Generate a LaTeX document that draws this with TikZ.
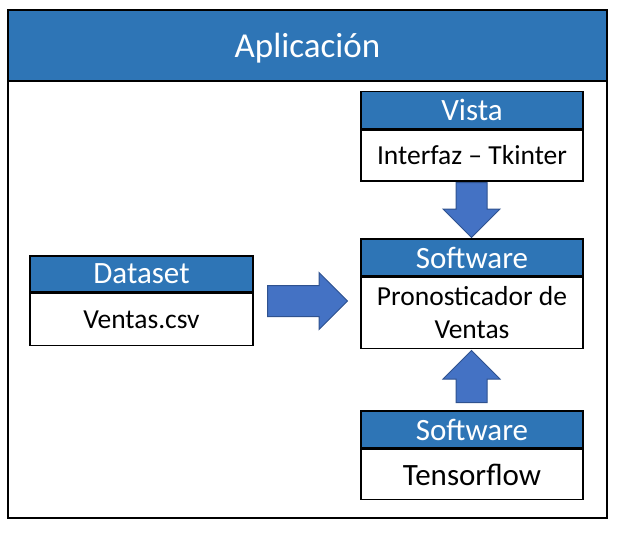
\documentclass[tikz,border=0pt]{standalone}
\usepackage{fontspec}
\setmainfont{Carlito}
\usetikzlibrary{shapes.arrows,positioning}

\definecolor{azul}{RGB}{46,117,182}
\definecolor{flecha}{RGB}{68,114,196}
\definecolor{bordeflecha}{RGB}{47,82,143}

\tikzset{
    cabecera/.style={draw, line width=1.5pt, fill=azul, text=white, minimum width=222pt,
        minimum height=37pt, inner sep=0pt, font=\fontsize{31}{31}\selectfont},
    cuerpo/.style={draw, line width=1.5pt, fill=white, minimum width=222pt, inner sep=0pt,
        align=center, font=\fontsize{27.5}{33}\selectfont},
    flechabloque/.style={single arrow, draw=bordeflecha, fill=flecha, line width=1pt,
        inner xsep=0pt, inner ysep=15pt, single arrow head extend=13pt, anchor=tail}
}

\begin{document}
\begin{tikzpicture}[x=1pt, y=-1pt]
    \useasboundingbox (0,0) rectangle (617,538);

    % marco y titulo
    \node[draw, line width=2pt, minimum width=599pt, minimum height=508pt, inner sep=0pt] (marco) at (307.5,264) {};
    \node[draw, line width=2pt, fill=azul, text=white, minimum width=599pt, minimum height=71pt,
        inner sep=0pt, text height=23pt, text depth=0pt, font=\fontsize{35}{35}\selectfont,
        anchor=north] (titulo) at (marco.north) {Aplicación};

    % Vista
    \node[cabecera] (vista) at (472,110) {Vista};
    \node[cuerpo, minimum height=51pt, below=0pt of vista] (interfaz) {Interfaz -- Tkinter};

    % Software central
    \node[cabecera] (software) at (472,257.5) {Software};
    \node[cuerpo, minimum height=71pt, below=0pt of software] (pronosticador) {Pronosticador de\\Ventas};

    % Tensorflow
    \node[cabecera] (softwareb) at (472,429.5) {Software};
    \node[cuerpo, minimum height=50pt, below=0pt of softwareb, font=\fontsize{31}{31}\selectfont] (tensorflow) {Tensorflow};

    % Dataset
    \node[cabecera, minimum width=223pt, minimum height=36pt] (dataset) at (141.5,274) {Dataset};
    \node[cuerpo, minimum width=223pt, minimum height=52pt, below=0pt of dataset] (ventas) {Ventas.csv};

    % flechas
    \node[flechabloque, minimum height=80pt] (fderecha) at (267,301) {};
    \node[flechabloque, minimum height=55pt, rotate=-90] (fabajo) at (471.5,182) {};
    \node[flechabloque, minimum height=52pt, rotate=90] (farriba) at (471.5,403) {};
\end{tikzpicture}
\end{document}
